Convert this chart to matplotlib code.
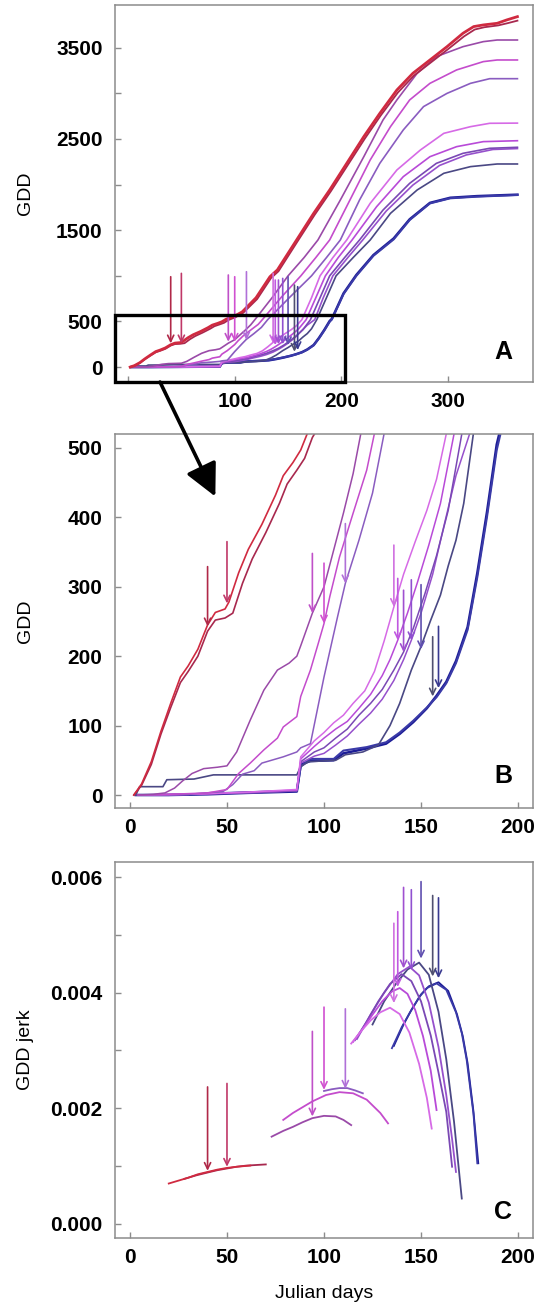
import numpy as np
import matplotlib.pyplot as plt
from matplotlib.patches import Rectangle, ConnectionPatch

plt.rcParams['font.family'] = ['Liberation Sans', 'DejaVu Sans']

# onset day marked by the arrow of each series (same order everywhere)
arrow_day = [40, 50, 94, 100, 111, 136, 138, 141, 145, 150, 156, 159]

# --- cumulative GDD curves (panel A, zoomed in panel B) ---
days_1 = [2, 6, 11, 16, 21, 26, 30, 35, 40, 44, 49, 51, 56, 61, 68, 75, 79, 84, 88, 92, 100, 107, 120, 133, 140,
          158, 174, 189, 205, 221, 236, 252, 267, 283, 299, 314, 324, 333, 346, 355, 365]
gdd_1 = [0, 16, 48, 92, 132, 170, 186, 210, 245, 263, 268, 278, 320, 354, 390, 432, 460, 479, 497, 525, 560, 605, 760,
         990, 1065, 1393, 1685, 1941, 2233, 2526, 2781, 3037, 3220, 3366, 3512, 3659, 3732, 3750, 3768, 3805, 3841]
days_2 = [2, 6, 11, 16, 21, 26, 30, 35, 40, 44, 49, 53, 58, 63, 70, 77, 81, 86, 90, 94, 101, 108, 121, 134, 141,
          159, 175, 190, 206, 222, 237, 253, 268, 284, 300, 315, 325, 334, 347, 356, 365]
gdd_2 = [0, 14, 44, 88, 126, 162, 178, 200, 236, 252, 255, 262, 305, 340, 378, 420, 448, 468, 485, 515, 548, 595, 745,
         975, 1050, 1380, 1670, 1925, 2215, 2505, 2760, 3010, 3195, 3340, 3485, 3625, 3700, 3725, 3745, 3770, 3797]
days_3 = [4, 12, 18, 23, 27, 32, 38, 45, 50, 55, 62, 69, 76, 82, 86, 88, 94, 100, 105, 110, 115, 119, 135, 150, 165,
          178, 199, 221, 239, 252, 271, 289, 314, 333, 346, 365]
gdd_3 = [0, 1, 3, 10, 20, 31, 38, 40, 42, 62, 108, 151, 180, 190, 200, 215, 262, 300, 353, 406, 463, 521, 760, 1000,
         1200, 1393, 1831, 2306, 2708, 2928, 3220, 3403, 3512, 3567, 3585, 3585]
days_4 = [4, 20, 40, 50, 56, 62, 69, 76, 79, 86, 88, 93, 97, 100, 103, 108, 115, 122, 126, 144, 162, 176, 189, 208,
          227, 246, 264, 283, 308, 333, 346, 365]
gdd_4 = [0, 1, 3, 8, 31, 46, 65, 82, 98, 113, 142, 180, 218, 247, 286, 343, 406, 468, 521, 770, 1000, 1200, 1393,
         1831, 2270, 2635, 2928, 3110, 3257, 3348, 3366, 3366]
days_5 = [4, 30, 48, 53, 58, 64, 68, 79, 86, 88, 93, 100, 107, 111, 118, 125, 131, 152, 172, 186, 199, 217, 236, 258,
          277, 299, 321, 339, 365]
gdd_5 = [0, 1, 5, 15, 30, 35, 46, 55, 62, 68, 74, 170, 257, 305, 367, 435, 521, 770, 1000, 1200, 1393, 1831, 2233,
         2599, 2855, 3000, 3110, 3161, 3161]
days_6 = [4, 30, 60, 86, 88, 95, 100, 105, 110, 115, 121, 126, 131, 136, 141, 147, 153, 158, 163, 172, 180, 192, 205,
          227, 252, 274, 296, 321, 339, 365]
gdd_6 = [0, 1, 4, 8, 55, 78, 90, 104, 115, 132, 150, 178, 222, 271, 318, 365, 410, 455, 520, 760, 1000, 1200, 1393,
         1795, 2160, 2379, 2562, 2635, 2672, 2674]
days_7 = [4, 30, 60, 86, 88, 95, 100, 106, 112, 118, 124, 130, 134, 138, 143, 148, 154, 160, 167, 176, 185, 197, 210,
          233, 258, 283, 308, 333, 365]
gdd_7 = [0, 1, 4, 7, 52, 70, 82, 95, 106, 125, 145, 172, 195, 223, 262, 305, 360, 420, 520, 760, 1000, 1200, 1393,
         1758, 2087, 2306, 2416, 2471, 2481]
days_8 = [4, 30, 60, 86, 88, 95, 100, 106, 112, 118, 124, 130, 136, 141, 146, 152, 158, 164, 171, 180, 189, 203, 217,
          239, 264, 289, 314, 339, 365]
gdd_8 = [0, 1, 3, 6, 48, 62, 68, 82, 95, 115, 132, 152, 180, 206, 240, 290, 345, 410, 520, 760, 1000, 1200, 1393,
         1721, 2014, 2233, 2343, 2398, 2409]
days_9 = [4, 30, 60, 86, 88, 95, 100, 106, 112, 118, 124, 130, 136, 141, 145, 150, 156, 162, 168, 175, 183, 192, 206,
          220, 242, 267, 292, 317, 342, 365]
gdd_9 = [0, 1, 3, 6, 46, 56, 60, 72, 85, 102, 118, 138, 165, 195, 223, 262, 318, 390, 460, 520, 760, 1000, 1200,
         1393, 1710, 1995, 2210, 2325, 2385, 2395]
days_10 = [3, 5, 17, 19, 33, 43, 86, 88, 92, 106, 111, 120, 128, 134, 139, 145, 150, 155, 160, 164, 168, 172, 177,
           186, 195, 211, 227, 246, 271, 296, 321, 346, 365]
gdd_10 = [0, 12, 12, 22, 23, 29, 29, 41, 48, 50, 58, 62, 72, 100, 132, 180, 214, 252, 288, 330, 367, 420, 521, 760,
          1000, 1200, 1393, 1685, 1941, 2124, 2197, 2226, 2226]
days_11 = [3, 20, 40, 60, 86, 88, 93, 105, 110, 122, 132, 139, 146, 153, 158, 163, 168, 174, 179, 184, 189, 191, 202,
           214, 230, 249, 264, 283, 302, 327, 365]
gdd_11 = [0, 0, 2, 4, 6, 41, 52, 52, 64, 69, 76, 90, 107, 126, 141, 161, 190, 238, 314, 401, 497, 521, 800, 1000,
          1220, 1400, 1612, 1794, 1850, 1868, 1886]
days_12 = [3, 20, 40, 60, 86, 88, 93, 105, 110, 122, 132, 139, 146, 153, 158, 163, 168, 174, 179, 184, 189, 191, 202,
           214, 230, 249, 264, 283, 302, 327, 365]
gdd_12 = [0, 0, 1, 3, 5, 44, 49, 50, 60, 67, 74, 88, 105, 125, 143, 163, 193, 242, 320, 408, 505, 528, 808, 1010,
          1228, 1410, 1620, 1800, 1856, 1874, 1890]

gdd_days = [days_1, days_2, days_3, days_4, days_5, days_6, days_7, days_8, days_9, days_10, days_11, days_12]
gdd_vals = [gdd_1, gdd_2, gdd_3, gdd_4, gdd_5, gdd_6, gdd_7, gdd_8, gdd_9, gdd_10, gdd_11, gdd_12]

# --- GDD jerk arcs (panel C), values in units of 1e-3 ---
jdays_1 = [20, 25, 30, 35, 40, 45, 50, 55, 62]
jerk_1 = [0.70, 0.75, 0.80, 0.86, 0.90, 0.94, 0.97, 0.99, 1.01]
jdays_2 = [28, 34, 40, 45, 50, 55, 60, 65, 70]
jerk_2 = [0.78, 0.84, 0.89, 0.93, 0.96, 0.99, 1.01, 1.02, 1.03]
jdays_3 = [73, 79, 84, 89, 94, 100, 106, 110, 114]
jerk_3 = [1.51, 1.61, 1.68, 1.76, 1.83, 1.87, 1.86, 1.80, 1.71]
jdays_4 = [79, 84, 88, 94, 101, 108, 115, 122, 129, 133]
jerk_4 = [1.80, 1.92, 2.00, 2.12, 2.23, 2.28, 2.26, 2.15, 1.92, 1.74]
jdays_5 = [100, 104, 108, 112, 116, 120]
jerk_5 = [2.30, 2.33, 2.35, 2.35, 2.31, 2.26]
jdays_6 = [114, 119, 124, 129, 134, 139, 144, 149, 153, 155.5]
jerk_6 = [3.12, 3.33, 3.52, 3.66, 3.74, 3.63, 3.31, 2.77, 2.18, 1.65]
jdays_7 = [115, 120, 125, 130, 135, 139, 143, 147, 151, 155, 158]
jerk_7 = [3.15, 3.38, 3.62, 3.85, 4.02, 4.08, 3.98, 3.70, 3.25, 2.65, 1.97]
jdays_8 = [116, 122, 128, 134, 140, 145, 150, 155, 159, 163, 166]
jerk_8 = [3.18, 3.50, 3.85, 4.15, 4.32, 4.20, 3.85, 3.26, 2.62, 1.94, 0.99]
jdays_9 = [117, 124, 131, 138, 144, 149, 154, 159, 163, 166, 168]
jerk_9 = [3.20, 3.62, 4.00, 4.32, 4.45, 4.30, 3.83, 3.06, 2.23, 1.47, 0.90]
jdays_10 = [125, 131, 137, 143, 149, 154, 159, 163, 167, 171]
jerk_10 = [3.45, 3.85, 4.15, 4.40, 4.52, 4.31, 3.67, 2.85, 1.77, 0.44]
jdays_11 = [135, 140, 144, 149, 153, 158, 163, 168, 171, 173.5, 177, 179]
jerk_11 = [3.04, 3.40, 3.64, 3.92, 4.08, 4.16, 4.05, 3.66, 3.30, 2.84, 1.91, 1.05]
jdays_12 = [136, 141, 145, 150, 154, 159, 164, 168.5, 171.5, 174, 177, 179.5]
jerk_12 = [3.08, 3.45, 3.70, 3.97, 4.11, 4.18, 4.03, 3.63, 3.25, 2.78, 1.95, 1.05]

jerk_days = [jdays_1, jdays_2, jdays_3, jdays_4, jdays_5, jdays_6, jdays_7, jdays_8, jdays_9, jdays_10, jdays_11,
             jdays_12]
jerk_vals = [jerk_1, jerk_2, jerk_3, jerk_4, jerk_5, jerk_6, jerk_7, jerk_8, jerk_9, jerk_10, jerk_11, jerk_12]

# arrows: (top, tip) per panel
arrowA_top = [990, 1027, 1009, 990, 1045, 1027, 954, 954, 972, 990, 899, 881]
arrowA_tip = [260, 260, 278, 278, 296, 260, 241, 250, 250, 241, 168, 186]
arrowB_top = [329, 365, 348, 334, 391, 360, 312, 295, 310, 303, 228, 243]
arrowB_tip = [243, 276, 262, 247, 305, 271, 223, 206, 223, 210, 142, 154]
arrowC_top = [2.37, 2.43, 3.33, 3.75, 3.72, 5.20, 5.40, 5.82, 5.78, 5.92, 5.68, 5.64]
arrowC_tip = [0.92, 0.99, 1.86, 2.32, 2.34, 3.82, 4.10, 4.42, 4.39, 4.59, 4.28, 4.25]

# styles
line_colors = ['#d02a40', '#a8284e', '#9a4aa8', '#c44ccc', '#8a5cc0', '#d66ae6',
               '#b84ad8', '#7a48b4', '#9650cc', '#4a4884', '#3a3aa8', '#1c1c96']
arrow_colors = ['#b02848', '#c03868', '#c050c8', '#d050d0', '#b070d8', '#d070e0',
                '#c058e0', '#a050d0', '#9050d0', '#6050b0', '#505070', '#3a3a90']
widths_A = [2.0, 1.3, 1.2, 1.2, 1.2, 1.2, 1.2, 1.2, 1.2, 1.2, 1.5, 1.8]
widths_B = [1.2, 1.2, 1.1, 1.1, 1.1, 1.1, 1.1, 1.1, 1.1, 1.2, 1.5, 1.8]
spine_col = '#8c8c8c'


def style_axes(ax, xticks, xlabels, yticks, ylabels):
    for s in ax.spines.values():
        s.set_color(spine_col)
        s.set_linewidth(1.1)
    ax.set_xticks(xticks, xlabels)
    ax.set_yticks(yticks, ylabels)
    ax.tick_params(direction='in', length=4, width=1, color=spine_col, labelsize=15)
    ax.tick_params(axis='x', pad=7)
    ax.tick_params(axis='y', pad=9)
    for lab in ax.get_xticklabels() + ax.get_yticklabels():
        lab.set_fontweight('bold')


def draw_arrows(ax, tops, tips, scale=1.0):
    for d, t0, t1, c in zip(arrow_day, tops, tips, arrow_colors):
        ax.annotate('', xy=(d, t1 * scale), xytext=(d, t0 * scale),
                    arrowprops=dict(arrowstyle='->,head_length=0.45,head_width=0.22', color=c,
                                    lw=1.2, shrinkA=0, shrinkB=0, mutation_scale=10))


fig = plt.figure(figsize=(5.42, 13.07), dpi=100)
axA = fig.add_axes([0.2122, 0.7077, 0.7712, 0.2885])
axB = fig.add_axes([0.2122, 0.3818, 0.7712, 0.2861])
axC = fig.add_axes([0.2122, 0.0528, 0.7712, 0.2877])

# panel A
for i in reversed(range(12)):
    axA.plot(gdd_days[i], gdd_vals[i], color=line_colors[i], lw=widths_A[i])
draw_arrows(axA, arrowA_top, arrowA_tip)
axA.set_xlim(-12.2, 379.6)
axA.set_ylim(-164, 3969)
style_axes(axA, [0, 100, 200, 300], ['', '100', '200', '300'],
           np.arange(0, 3501, 500), ['0', '500', '', '1500', '', '2500', '', '3500'])
axA.set_ylabel('GDD', fontsize=14)
axA.yaxis.set_label_coords(-0.195, 0.5)
axA.text(0.928, 0.08, 'A', transform=axA.transAxes, fontsize=18, fontweight='bold',
         ha='center', va='center')
axA.add_patch(Rectangle((-12.2, -164), 203 + 12.2, 570 + 164, fill=False, ec='black',
                        lw=2.4, clip_on=False, zorder=6))

# panel B
for i in reversed(range(12)):
    axB.plot(gdd_days[i], gdd_vals[i], color=line_colors[i], lw=widths_B[i])
draw_arrows(axB, arrowB_top, arrowB_tip)
axB.set_xlim(-7.7, 207.7)
axB.set_ylim(-18.7, 520)
style_axes(axB, [0, 50, 100, 150, 200], ['0', '50', '100', '150', '200'],
           [0, 100, 200, 300, 400, 500], ['0', '100', '200', '300', '400', '500'])
axB.set_ylabel('GDD', fontsize=14)
axB.yaxis.set_label_coords(-0.195, 0.5)
axB.text(0.928, 0.085, 'B', transform=axB.transAxes, fontsize=18, fontweight='bold',
         ha='center', va='center')

# panel C
for i in reversed(range(12)):
    axC.plot(jerk_days[i], np.array(jerk_vals[i]) * 1e-3, color=line_colors[i], lw=1.3)
draw_arrows(axC, arrowC_top, arrowC_tip, scale=1e-3)
axC.set_xlim(-7.7, 207.7)
axC.set_ylim(-0.000242, 0.00626)
style_axes(axC, [0, 50, 100, 150, 200], ['0', '50', '100', '150', '200'],
           np.arange(0, 0.00601, 0.001), ['0.000', '', '0.002', '', '0.004', '', '0.006'])
axC.set_ylabel('GDD jerk', fontsize=14)
axC.yaxis.set_label_coords(-0.195, 0.5)
axC.set_xlabel('Julian days', fontsize=14)
axC.xaxis.set_label_coords(0.5, -0.125)
axC.text(0.928, 0.07, 'C', transform=axC.transAxes, fontsize=18, fontweight='bold',
         ha='center', va='center')

# zoom arrow from the box in A down into B
con = ConnectionPatch(xyA=(30, -164), coordsA=axA.transData, xyB=(44, 430), coordsB=axB.transData,
                      arrowstyle='-|>,head_length=0.9,head_width=0.45', mutation_scale=22,
                      lw=2.6, color='black', zorder=7)
fig.add_artist(con)

fig.savefig('out.png', dpi=100)
